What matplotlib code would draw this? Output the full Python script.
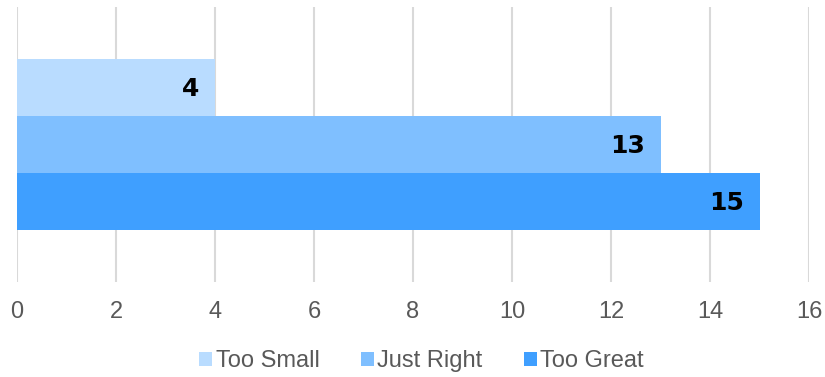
import matplotlib.pyplot as plt

plt.rcParams['font.family'] = ['Liberation Sans', 'DejaVu Sans']

series = ['Too Small', 'Just Right', 'Too Great']
values = [4, 13, 15]
colors = ['#B9DCFF', '#7FBFFF', '#3F9FFF']
ticks = [0, 2, 4, 6, 8, 10, 12, 14, 16]

fig = plt.figure(figsize=(8.25, 3.77), dpi=100)
ax = fig.add_axes([17 / 825, 1 - 282 / 377, 792 / 825, 275 / 377])

# one category, three bars from top to bottom
positions = [1, 0, -1]
for name, val, col, pos in zip(series, values, colors, positions):
    ax.barh(pos, val, height=1.0, color=col, label=name, zorder=2)
    ax.text(val - 0.32, pos - 0.03, str(val), ha='right', va='center',
            fontsize=18, fontweight='heavy', family='DejaVu Sans',
            color='black', zorder=3)

ax.set_xlim(0, 16)
ax.set_ylim(-2.41, 2.41)
ax.set_xticks(ticks)
ax.set_yticks([])
ax.grid(axis='x', color='#D9D9D9', linewidth=1.5, zorder=0)
for s in ax.spines.values():
    s.set_visible(False)
ax.tick_params(axis='x', length=0, pad=14, labelsize=17, labelcolor='#595959')

ax.legend(loc='center', bbox_to_anchor=(0.5 + 9 / 825, (377 - 361) / 377), bbox_transform=fig.transFigure,
          ncol=3, frameon=False, fontsize=17, handlelength=0.55, handleheight=0.55,
          handletextpad=0.15, columnspacing=1.75, labelcolor='#595959')

fig.savefig('out.png', dpi=100)
